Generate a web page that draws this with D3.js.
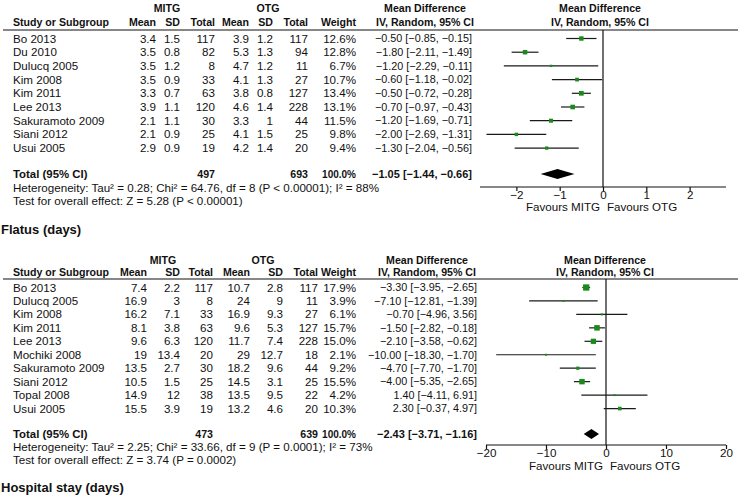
<!DOCTYPE html>
<html>
<head>
<meta charset="utf-8">
<script src="https://cdn.jsdelivr.net/npm/d3@7/dist/d3.min.js"></script>
<style>
  body { margin: 0; background: #fff; }
  svg text { font-family: "Liberation Sans", Arial, sans-serif; fill: #111; }
</style>
</head>
<body>
<script>
// ---- first forest plot (untitled, top) ----
const studiesA = ["Bo 2013", "Du 2010", "Dulucq 2005", "Kim 2008", "Kim 2011", "Lee 2013", "Sakuramoto 2009", "Siani 2012", "Usui 2005"];
const mitgMeanA = [3.4, 3.5, 3.5, 3.5, 3.3, 3.9, 2.1, 2.1, 2.9];
const mitgSdA   = [1.5, 0.8, 1.2, 0.9, 0.7, 1.1, 1.1, 0.9, 0.9];
const mitgNA    = [117, 82, 8, 33, 63, 120, 30, 25, 19];
const otgMeanA  = [3.9, 5.3, 4.7, 4.1, 3.8, 4.6, 3.3, 4.1, 4.2];
const otgSdA    = [1.2, 1.3, 1.2, 1.3, 0.8, 1.4, 1, 1.5, 1.4];
const otgNA     = [117, 94, 11, 27, 127, 228, 44, 25, 20];
const weightA   = [12.6, 12.8, 6.7, 10.7, 13.4, 13.1, 11.5, 9.8, 9.4];
const mdA       = [-0.50, -1.80, -1.20, -0.60, -0.50, -0.70, -1.20, -2.00, -1.30];
const loA       = [-0.85, -2.11, -2.29, -1.18, -0.72, -0.97, -1.69, -2.69, -2.04];
const hiA       = [-0.15, -1.49, -0.11, -0.02, -0.28, -0.43, -0.71, -1.31, -0.56];
const totalA    = {n1: 497, n2: 693, md: -1.05, lo: -1.44, hi: -0.66};
const hetA      = "Heterogeneity: Tau\u00b2 = 0.28; Chi\u00b2 = 64.76, df = 8 (P < 0.00001); I\u00b2 = 88%";
const testA     = "Test for overall effect: Z = 5.28 (P < 0.00001)";
const ticksA    = [-2, -1, 0, 1, 2];

// ---- Flatus (days) ----
const studiesB = ["Bo 2013", "Dulucq 2005", "Kim 2008", "Kim 2011", "Lee 2013", "Mochiki 2008", "Sakuramoto 2009", "Siani 2012", "Topal 2008", "Usui 2005"];
const mitgMeanB = [7.4, 16.9, 16.2, 8.1, 9.6, 19, 13.5, 10.5, 14.9, 15.5];
const mitgSdB   = [2.2, 3, 7.1, 3.8, 6.3, 13.4, 2.7, 1.5, 12, 3.9];
const mitgNB    = [117, 8, 33, 63, 120, 20, 30, 25, 38, 19];
const otgMeanB  = [10.7, 24, 16.9, 9.6, 11.7, 29, 18.2, 14.5, 13.5, 13.2];
const otgSdB    = [2.8, 9, 9.3, 5.3, 7.4, 12.7, 9.6, 3.1, 9.5, 4.6];
const otgNB     = [117, 11, 27, 127, 228, 18, 44, 25, 22, 20];
const weightB   = [17.9, 3.9, 6.1, 15.7, 15.0, 2.1, 9.2, 15.5, 4.2, 10.3];
const mdB       = [-3.30, -7.10, -0.70, -1.50, -2.10, -10.00, -4.70, -4.00, 1.40, 2.30];
const loB       = [-3.95, -12.81, -4.96, -2.82, -3.58, -18.30, -7.70, -5.35, -4.11, -0.37];
const hiB       = [-2.65, -1.39, 3.56, -0.18, -0.62, -1.70, -1.70, -2.65, 6.91, 4.97];
const totalB    = {n1: 473, n2: 639, md: -2.43, lo: -3.71, hi: -1.16};
const hetB      = "Heterogeneity: Tau\u00b2 = 2.25; Chi\u00b2 = 33.66, df = 9 (P = 0.0001); I\u00b2 = 73%";
const testB     = "Test for overall effect: Z = 3.74 (P = 0.0002)";
const ticksB    = [-20, -10, 0, 10, 20];

const width = 738, height = 496;
const svg = d3.select("body").append("svg")
  .attr("width", width)
  .attr("height", height);

const f2 = d3.format(".2f"),
      f1 = d3.format(".1f");
const mdText = (m, l, h) => f2(m) + " [" + f2(l) + ", " + f2(h) + "]";

// font sizes (regular text runs a little larger than bold, like the original)
const FS = 11.6, FB = 10.6, FMD = 10.8;

function drawPanel(d, L) {
  const g = svg.append("g");
  const txt = (x, y, s, anchor, bold, size) => g.append("text")
      .attr("x", x).attr("y", y).attr("dy", "0.35em")
      .attr("text-anchor", anchor || "end")
      .attr("font-size", size || (bold ? FB : FS))
      .attr("font-weight", bold ? "bold" : "normal")
      .text(s);

  // headers
  txt(L.c.g1, L.yGroup, "MITG", "middle", true);
  txt(L.c.g2, L.yGroup, "OTG", "middle", true);
  txt(L.c.mdH, L.yGroup, "Mean Difference", "middle", true);
  txt(L.c.plotH, L.yGroup, "Mean Difference", "middle", true);
  txt(13, L.yHead, "Study or Subgroup", "start", true);
  txt(L.c.m1, L.yHead, "Mean", "end", true);
  txt(L.c.s1, L.yHead, "SD", "end", true);
  txt(L.c.n1, L.yHead, "Total", "end", true);
  txt(L.c.m2, L.yHead, "Mean", "end", true);
  txt(L.c.s2, L.yHead, "SD", "end", true);
  txt(L.c.n2, L.yHead, "Total", "end", true);
  txt(L.c.w, L.yHead, "Weight", "end", true);
  txt(L.c.mdH, L.yHead, "IV, Random, 95% CI", "middle", true);
  txt(L.c.plotH, L.yHead, "IV, Random, 95% CI", "middle", true);

  g.append("line")
    .attr("x1", 3).attr("x2", width)
    .attr("y1", L.yLine).attr("y2", L.yLine)
    .attr("stroke", "#111").attr("stroke-width", 1.2);

  const y = i => L.yRow0 + i * L.step;

  d.studies.forEach((s, i) => {
    txt(13, y(i), s, "start");
    txt(L.c.m1, y(i), String(d.m1[i]));
    txt(L.c.s1, y(i), String(d.s1[i]));
    txt(L.c.n1, y(i), String(d.n1[i]));
    txt(L.c.m2, y(i), String(d.m2[i]));
    txt(L.c.s2, y(i), String(d.s2[i]));
    txt(L.c.n2, y(i), String(d.n2[i]));
    txt(L.c.w, y(i), f1(d.w[i]) + "%");
    txt(L.c.md, y(i), mdText(d.md[i], d.lo[i], d.hi[i]), "end", false, FMD);
  });

  // total row
  txt(13, L.yTotal, "Total (95% CI)", "start", true, 11.4);
  txt(L.c.n1, L.yTotal, String(d.total.n1), "end", true);
  txt(L.c.n2, L.yTotal, String(d.total.n2), "end", true);
  txt(L.c.w, L.yTotal, "100.0%", "end", true, 10);
  txt(L.c.md, L.yTotal, mdText(d.total.md, d.total.lo, d.total.hi), "end", true, 11);
  txt(13, L.yHet, d.het, "start");
  txt(13, L.yTest, d.test, "start");

  // forest plot
  const x = d3.scaleLinear().domain(L.domain).range(L.range);

  g.append("line")
    .attr("x1", x(0)).attr("x2", x(0))
    .attr("y1", L.yLine).attr("y2", L.yAxis)
    .attr("stroke", "#111").attr("stroke-width", 1.2);

  d.studies.forEach((s, i) => {
    g.append("line")
      .attr("x1", x(d.lo[i])).attr("x2", x(d.hi[i]))
      .attr("y1", y(i)).attr("y2", y(i))
      .attr("stroke", "#1a1a1a").attr("stroke-width", 1.2);
    const side = Math.max(2, d.w[i] * 0.35);
    g.append("rect")
      .attr("x", x(d.md[i]) - side / 2)
      .attr("y", y(i) - side / 2)
      .attr("width", side).attr("height", side)
      .attr("fill", "#1a8a1a");
  });

  const dh = 5;
  g.append("path")
    .attr("d", d3.line()([
      [x(d.total.lo), L.yTotal], [x(d.total.md), L.yTotal - dh],
      [x(d.total.hi), L.yTotal], [x(d.total.md), L.yTotal + dh]
    ]) + "Z")
    .attr("fill", "#000");

  const axis = d3.axisBottom(x).tickValues(d.ticks).tickSize(4)
    .tickFormat(d3.format("d"));
  const ax = g.append("g")
    .attr("transform", "translate(0," + L.yAxis + ")")
    .call(axis);
  ax.select(".domain").attr("stroke", "#111").attr("stroke-width", 1.2)
    .attr("d", "M" + L.range[0] + ",0H" + L.range[1]);
  ax.selectAll(".tick line").attr("stroke", "#111").attr("stroke-width", 1.2);
  ax.selectAll(".tick text").attr("font-size", FS).attr("dy", "0.45em")
    .attr("font-family", "Liberation Sans, Arial, sans-serif").attr("fill", "#111");

  txt(x(0) - 3, L.yFav, "Favours MITG", "end");
  txt(x(0) + 4, L.yFav, "Favours OTG", "start");
}

drawPanel(
  {studies: studiesA, m1: mitgMeanA, s1: mitgSdA, n1: mitgNA, m2: otgMeanA, s2: otgSdA, n2: otgNA,
   w: weightA, md: mdA, lo: loA, hi: hiA, total: totalA, het: hetA, test: testA, ticks: ticksA},
  {yGroup: 8, yHead: 22.5, yLine: 30, yRow0: 38.5, step: 13.7, yTotal: 174, yHet: 187.5, yTest: 201,
   yAxis: 187, yFav: 207, domain: [-2.84, 2.84], range: [480, 726],
   c: {g1: 167, g2: 268, m1: 156, s1: 180, n1: 215, m2: 249, s2: 273, n2: 308, w: 356, md: 472, mdH: 425, plotH: 600}}
);

svg.append("text")
  .attr("x", 1).attr("y", 229).attr("dy", "0.35em")
  .attr("font-size", 13).attr("font-weight", "bold")
  .text("Flatus (days)");

drawPanel(
  {studies: studiesB, m1: mitgMeanB, s1: mitgSdB, n1: mitgNB, m2: otgMeanB, s2: otgSdB, n2: otgNB,
   w: weightB, md: mdB, lo: loB, hi: hiB, total: totalB, het: hetB, test: testB, ticks: ticksB},
  {yGroup: 260, yHead: 272, yLine: 279, yRow0: 287.5, step: 13.45, yTotal: 434, yHet: 447, yTest: 460,
   yAxis: 445, yFav: 466, domain: [-20, 20], range: [486, 726],
   c: {g1: 163, g2: 263, m1: 147, s1: 180, n1: 213, m2: 250, s2: 283, n2: 318, w: 356, md: 477, mdH: 427, plotH: 605}}
);

svg.append("text")
  .attr("x", 1).attr("y", 487).attr("dy", "0.35em")
  .attr("font-size", 13).attr("font-weight", "bold")
  .text("Hospital stay (days)");
</script>
</body>
</html>
